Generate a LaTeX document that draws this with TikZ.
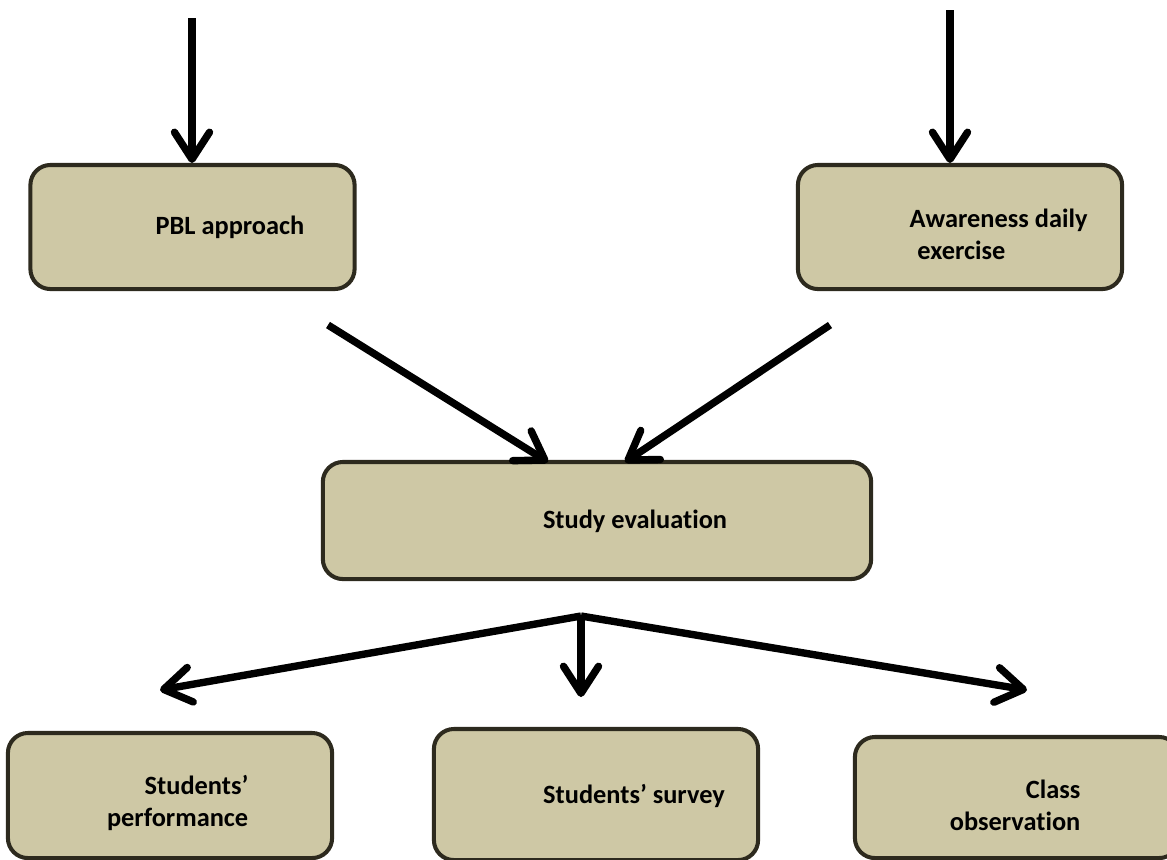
\documentclass[tikz,border=0pt]{standalone}
\usepackage{fontspec}
\setmainfont[Ligatures={TeX,NoCommon}]{Carlito}
\usetikzlibrary{arrows.meta}
\definecolor{boxfill}{RGB}{206,200,165}
\definecolor{boxline}{RGB}{45,42,30}

\begin{document}
\begin{tikzpicture}[x=0.01cm,y=-0.01cm,
  box/.style={draw=boxline,line width=1.15pt,fill=boxfill,rounded corners=0.2cm,
    minimum width=3.24cm,minimum height=1.24cm,inner sep=0pt},
  txt/.style={font=\fontsize{7.5}{9.1}\selectfont\bfseries,inner sep=0pt},
  arr/.style={line width=2.1pt,-{Straight Barb[round,length=2.7mm,width=3.5mm]}}]
  \useasboundingbox (0,0) rectangle (1167,859);
  \clip (0,0) rectangle (1167,859);
  \node[box] (pbl) at (192.5,227) {};
  \node[box] (aware) at (960,227) {};
  \node[box,minimum width=5.48cm,minimum height=1.17cm] (study) at (597,520.5) {};
  \node[box,minimum height=1.25cm] (perf) at (170,795.5) {};
  \node[box,minimum height=1.31cm] (survey) at (596,794.5) {};
  \node[box,minimum height=1.21cm] (obs) at (1017,797.5) {};
  \node[txt] (pbltxt) at (230,227) {PBL approach};
  \node[txt,anchor=west,align=left] (awaretxt) at (909,234) {Awareness daily\\\hspace{2.2pt}exercise};
  \node[txt] (studytxt) at (635,521) {Study evaluation};
  \node[txt,anchor=east,align=right] (perftxt) at (249,803) {Students’\\performance};
  \node[txt] (surveytxt) at (634,796) {Students’ survey};
  \node[txt,anchor=east,align=right] (obstxt) at (1081,805) {Class\\observation};
  \coordinate (topL) at (192,18);
  \coordinate (topR) at (950,10);
  \coordinate (fromL) at (328,325);
  \coordinate (fromR) at (830,325);
  \coordinate (inL) at (548,462);
  \coordinate (inR) at (625,462);
  \coordinate (split) at (581,616);
  \coordinate (toPerf) at (160,690);
  \coordinate (toSurvey) at (581,697);
  \coordinate (toObs) at (1027,690);
  \draw[arr] (topL) -- (pbl.north -| topL);
  \draw[arr] (topR) -- (aware.north -| topR);
  \draw[arr] (fromL) -- (inL);
  \draw[arr] (fromR) -- (inR);
  \draw[arr] (split) -- (toPerf);
  \draw[arr] (split) -- (toSurvey);
  \draw[arr] (split) -- (toObs);
\end{tikzpicture}
\end{document}
